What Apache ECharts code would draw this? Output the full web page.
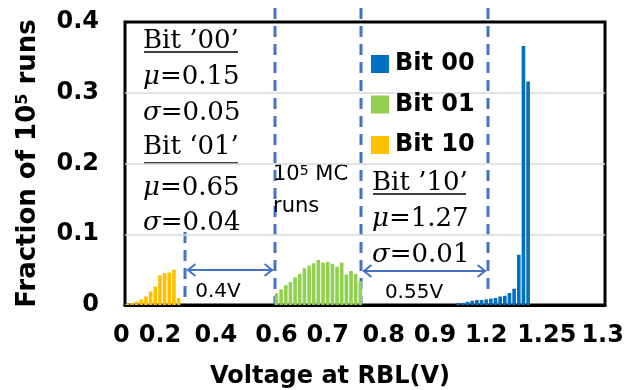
<!DOCTYPE html>
<html>
<head>
<meta charset="utf-8">
<script src="https://cdn.jsdelivr.net/npm/echarts@6/dist/echarts.min.js"></script>
<style>
  html, body { margin: 0; padding: 0; background: #fff; }
  #chart { width: 637px; height: 390px; }
</style>
</head>
<body>
<div id="chart"></div>
<script>
// Histogram of RBL voltage over 10^5 Monte Carlo runs, one bar per voltage bin.
const SLOT_COUNT = 103;

// Fraction of runs per bin, for each stored bit pattern
const bit10Start = 0;
const bit10Values = [0.002, 0.003, 0.005, 0.008, 0.012, 0.019, 0.026, 0.042, 0.045, 0.046, 0.050, 0.010];

const bit01Start = 32;
const bit01Values = [0.0165, 0.022, 0.028, 0.0325, 0.039, 0.044, 0.052, 0.0556, 0.059, 0.0636,
                     0.060, 0.061, 0.058, 0.054, 0.060, 0.043, 0.048, 0.044, 0.0335];

const bit00Start = 71;
const bit00Values = [0.003, 0.003, 0.0045, 0.006, 0.007, 0.007, 0.008, 0.009, 0.010, 0.012,
                     0.013, 0.017, 0.023, 0.071, 0.366, 0.316];

// Voltage tick labels and the bins they sit under
const tickLabels = ['0', '0.2', '0.4', '0.6', '0.7', '0.8', '0.9', '1.2', '1.25', '1.3'];
const tickSlots  = [0, 7, 19, 32, 43, 55, 66, 77, 90, 102];

const yTicks = [0, 0.1, 0.2, 0.3, 0.4];

function fillSlots(start, values) {
  const out = new Array(SLOT_COUNT).fill(null);
  values.forEach((v, i) => { out[start + i] = v; });
  return out;
}

const categories = new Array(SLOT_COUNT).fill('');
tickSlots.forEach((s, i) => { categories[s] = tickLabels[i]; });

const BLUE_LINE = '#4472C4';
const SERIF = '"DejaVu Serif", serif';
const SANS = '"DejaVu Sans", sans-serif';

function dashed(x, y1, y2) {
  return {
    type: 'line', silent: true,
    shape: { x1: x, y1: y1, x2: x, y2: y2 },
    style: { stroke: BLUE_LINE, lineWidth: 3, lineDash: [11, 7] }
  };
}
function arrow(x1, x2, y) {
  const h = 6;
  return [
    { type: 'line', silent: true, shape: { x1: x1, y1: y, x2: x2, y2: y },
      style: { stroke: BLUE_LINE, lineWidth: 2 } },
    { type: 'polyline', silent: true, shape: { points: [[x1 + h * 1.4, y - h], [x1 + 1, y], [x1 + h * 1.4, y + h]] },
      style: { stroke: BLUE_LINE, lineWidth: 2, fill: null } },
    { type: 'polyline', silent: true, shape: { points: [[x2 - h * 1.4, y - h], [x2 - 1, y], [x2 - h * 1.4, y + h]] },
      style: { stroke: BLUE_LINE, lineWidth: 2, fill: null } }
  ];
}
const serifRich = {
  r: { fontFamily: SERIF, fontSize: 26, color: '#000' },
  i: { fontFamily: SERIF, fontSize: 26, fontStyle: 'italic', color: '#000' }
};
function serifText(x, y, s) {
  return { type: 'text', silent: true, x: x, y: y,
    style: { text: s, rich: serifRich, verticalAlign: 'middle', align: 'left' } };
}
function underline(x1, x2, y) {
  return { type: 'line', silent: true, shape: { x1: x1, y1: y, x2: x2, y2: y },
    style: { stroke: '#000', lineWidth: 1.5 } };
}

const chart = echarts.init(document.getElementById('chart'), null, { renderer: 'canvas' });

chart.setOption({
  animation: false,
  backgroundColor: '#fff',
  grid: {
    left: 125, right: 32, top: 22, bottom: 85,
    containLabel: false, outerBoundsMode: 'none',
    show: true, borderColor: '#000', borderWidth: 3, backgroundColor: 'transparent'
  },
  legend: {
    orient: 'vertical',
    left: 366, top: 47,
    itemWidth: 18, itemHeight: 18, itemGap: 16.5,
    icon: 'rect',
    data: ['Bit 00', 'Bit 01', 'Bit 10'],
    textStyle: { fontFamily: SANS, fontWeight: 'bold', fontSize: 24, color: '#000', padding: [0, 0, 0, 1] }
  },
  xAxis: {
    type: 'category',
    data: categories,
    boundaryGap: true,
    axisLine: { show: true, lineStyle: { color: '#000', width: 3 } },
    axisTick: { show: false },
    axisLabel: {
      interval: 0,
      margin: 19,
      color: '#000',
      fontFamily: SANS,
      fontWeight: 'bold',
      fontSize: 24,
      formatter: (v, idx) => (idx === 0 && v !== '' ? '{z|' + v + '}' : v),
      rich: { z: { padding: [0, 12, 0, 0], fontFamily: SANS, fontWeight: 'bold', fontSize: 24, color: '#000' } }
    },
    name: 'Voltage at RBL(V)',
    nameLocation: 'middle',
    nameGap: 60,
    nameTextStyle: { fontFamily: SANS, fontWeight: 'bold', fontSize: 24, color: '#000', padding: [0, 70, 0, 0] }
  },
  yAxis: {
    type: 'value',
    min: yTicks[0], max: yTicks[yTicks.length - 1], interval: 0.1,
    axisLine: { show: false },
    axisTick: { show: false },
    splitLine: { show: true, showMinLine: false, showMaxLine: false, lineStyle: { color: '#d9d9d9', width: 1.5 } },
    axisLabel: {
      margin: 26, color: '#000', fontFamily: SANS, fontWeight: 'bold', fontSize: 24
    },
    name: '{t|Fraction of 10}{s|5}{t| runs}',
    nameLocation: 'middle',
    nameRotate: 90,
    nameGap: 84,
    nameTextStyle: {
      rich: {
        t: { fontFamily: SANS, fontWeight: 'bold', fontSize: 26, color: '#000' },
        s: { fontFamily: SANS, fontWeight: 'bold', fontSize: 16, color: '#000', verticalAlign: 'top', padding: [0, 0, 10, 0] }
      }
    }
  },
  series: [
    { name: 'Bit 00', type: 'bar', stack: 'bins', data: fillSlots(bit00Start, bit00Values),
      itemStyle: { color: '#0070C0' }, barCategoryGap: '22%' },
    { name: 'Bit 01', type: 'bar', stack: 'bins', data: fillSlots(bit01Start, bit01Values),
      itemStyle: { color: '#92D050' }, barCategoryGap: '22%' },
    { name: 'Bit 10', type: 'bar', stack: 'bins', data: fillSlots(bit10Start, bit10Values),
      itemStyle: { color: '#FFC000' }, barCategoryGap: '22%' }
  ],
  graphic: [
    dashed(185, 232, 305),
    dashed(275, 8, 305),
    dashed(361, 8, 305),
    dashed(488, 8, 290),
    ...arrow(187, 273, 270),
    ...arrow(363, 486, 271),
    serifText(143, 41, '{r|Bit ’00’}'),
    underline(144, 238, 52),
    serifText(143, 77, '{i|μ}{r|=0.15}'),
    serifText(143, 113, '{i|σ}{r|=0.05}'),
    serifText(143, 147, '{r|Bit ‘01’}'),
    underline(144, 238, 163),
    serifText(143, 188, '{i|μ}{r|=0.65}'),
    serifText(143, 223, '{i|σ}{r|=0.04}'),
    serifText(372, 183, '{r|Bit ’10’}'),
    underline(373, 466, 194),
    serifText(372, 219, '{i|μ}{r|=1.27}'),
    serifText(372, 255, '{i|σ}{r|=0.01}'),
    { type: 'text', silent: true, x: 273, y: 175,
      style: { text: '{a|10}{b|5}{a| MC}', verticalAlign: 'middle',
        rich: { a: { fontFamily: SANS, fontSize: 21, color: '#000' },
                b: { fontFamily: SANS, fontSize: 14, color: '#000', verticalAlign: 'top', padding: [0, 0, 8, 0] } } } },
    { type: 'text', silent: true, x: 273, y: 207,
      style: { text: 'runs', font: '21px ' + SANS, fill: '#000', verticalAlign: 'middle' } },
    { type: 'text', silent: true, x: 218, y: 292,
      style: { text: '0.4V', font: '20px ' + SANS, fill: '#000', align: 'center', verticalAlign: 'middle' } },
    { type: 'text', silent: true, x: 414, y: 293,
      style: { text: '0.55V', font: '20px ' + SANS, fill: '#000', align: 'center', verticalAlign: 'middle' } }
  ]
});
</script>
</body>
</html>
